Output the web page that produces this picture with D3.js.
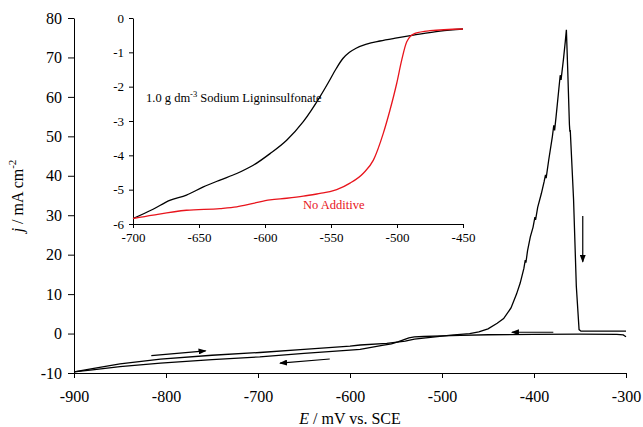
<!DOCTYPE html>
<html>
<head>
<meta charset="utf-8">
<script src="https://cdn.jsdelivr.net/npm/d3@7/dist/d3.min.js"></script>
<style>
body { margin:0; background:#fff; }
svg text { font-family: "Liberation Serif", "Times New Roman", Times, serif; fill:#000; }
</style>
</head>
<body>
<svg id="chart" width="643" height="427"></svg>
<script>
// main cyclic voltammogram, [E mV, j mA cm-2]
var forwardScan = [[-900,-9.7],[-880,-8.9],[-850,-7.7],[-806,-6.5],[-750,-5.5],[-698,-4.8],[-650,-4.0],[-600,-3.2],[-589,-2.9],
    [-560,-2.5],[-540,-1.9],[-530,-1.4],[-510,-0.9],[-490,-0.4],[-470,0.0],[-460,0.4],[-450,1.2],[-440,2.6],[-433,3.8],
    [-425,6.5],[-419,10],[-415,12.8],[-411,16.5],[-409.5,18.6],[-408.8,18.0],[-407,21],[-404,24.5],[-401,27],[-399,29.5],
    [-398.3,28.8],[-396,32],[-392,35.5],[-389,38.5],[-387.5,40.2],[-386.8,39.4],[-384,44],[-380,50],[-378.5,52.8],
    [-377.6,51.5],[-376,55],[-373,62],[-371.5,65.5],[-370.6,64.3],[-368,69.5],[-366,74],[-364.8,77],[-363.5,68],
    [-361.5,53],[-361,51.2],[-360.6,51.6],[-357,34],[-354,12],[-351,1],[-349,0.6],[-300,0.6]];
var reverseScan = [[-300,-0.8],[-303,-0.35],[-310,-0.2],[-350,-0.15],[-400,-0.2],[-450,-0.3],[-480,-0.45],[-500,-0.6],
    [-520,-0.75],[-530,-0.85],[-536,-1.1],[-542,-1.6],[-548,-2.1],[-555,-2.6],[-565,-3.0],[-589,-4.0],[-600,-4.2],
    [-650,-5.0],[-698,-5.9],[-750,-6.6],[-806,-7.5],[-850,-8.4],[-880,-9.2],[-900,-9.7]];
// scan direction arrows, [from, to] in data units
var scanArrows = [[[-816,-5.6],[-757,-4.4]],[[-622,-6.45],[-676,-7.5]],[[-379,0.33],[-424,0.33]],[[-347,29.8],[-347,18.2]]];
var mainXTicks = [-900,-800,-700,-600,-500,-400,-300];
var mainYTicks = [-10,0,10,20,30,40,50,60,70,80];

// inset: cathodic sweeps
var ligninCurve = [[-700,-5.84],[-684.8,-5.57],[-672.2,-5.31],[-659.5,-5.16],[-646.7,-4.92],[-634.1,-4.72],[-621.4,-4.53],
    [-608.9,-4.29],[-596.2,-3.95],[-583.6,-3.56],[-571,-3.02],[-558.3,-2.29],[-552,-1.88],[-546,-1.47],[-541,-1.18],
    [-536,-1.0],[-531,-0.88],[-523,-0.76],[-512.9,-0.67],[-500,-0.58],[-487.6,-0.5],[-467.4,-0.38],[-450,-0.32]];
var noAdditiveCurve = [[-700,-5.84],[-684.8,-5.74],[-659.5,-5.6],[-634.1,-5.55],[-621.4,-5.5],[-608.9,-5.4],[-596.2,-5.3],
    [-583.6,-5.25],[-571,-5.19],[-558.3,-5.11],[-550.8,-5.06],[-545.7,-5.0],[-535.6,-4.81],[-525.5,-4.52],[-517.9,-4.14],
    [-510.4,-3.36],[-505.3,-2.68],[-500.2,-1.9],[-496.4,-1.22],[-492.6,-0.69],[-486.4,-0.45],[-475,-0.37],[-450,-0.32]];
var insetXTicks = [-700,-650,-600,-550,-500,-450];
var insetYTicks = [-6,-5,-4,-3,-2,-1,0];

var serif = "'Liberation Serif', 'Times New Roman', Times, serif";
var svg = d3.select("#chart");

svg.append("defs").append("marker")
    .attr("id","head")
    .attr("markerUnits","userSpaceOnUse")
    .attr("markerWidth",8)
    .attr("markerHeight",6)
    .attr("refX",7)
    .attr("refY",3)
    .attr("orient","auto")
    .append("path")
    .attr("d","M0,0L8,3L0,6Z")
    .attr("fill","#000");

var x = d3.scaleLinear().domain([-900,-300]).range([74,626]);
var y = d3.scaleLinear().domain([-10,80]).range([373,18]);

var fmt = function (d) { return String(d); };

svg.append("g")
    .attr("transform","translate(0,373)")
    .call(d3.axisBottom(x).tickValues(mainXTicks).tickFormat(fmt).tickSize(5).tickSizeOuter(0).tickPadding(13))
    .attr("font-family",serif).attr("font-size",16);
svg.append("g")
    .attr("transform","translate(74,0)")
    .call(d3.axisLeft(y).tickValues(mainYTicks).tickFormat(fmt).tickSize(6).tickSizeOuter(0).tickPadding(6))
    .attr("font-family",serif).attr("font-size",16);

var line = d3.line()
    .x(function (d) { return x(d[0]); })
    .y(function (d) { return y(d[1]); });

svg.append("path").datum(forwardScan)
    .attr("d",line).attr("fill","none").attr("stroke","#000").attr("stroke-width",1.3);
svg.append("path").datum(reverseScan)
    .attr("d",line).attr("fill","none").attr("stroke","#000").attr("stroke-width",1.3);

scanArrows.forEach(function (a) {
    svg.append("line")
        .attr("x1",x(a[0][0])).attr("y1",y(a[0][1]))
        .attr("x2",x(a[1][0])).attr("y2",y(a[1][1]))
        .attr("stroke","#000").attr("stroke-width",1.2)
        .attr("marker-end","url(#head)");
});

var yLabel = svg.append("text")
    .attr("transform","translate(23,196) rotate(-90)")
    .attr("text-anchor","middle")
    .style("font-size","16px");
yLabel.append("tspan").style("font-style","italic").text("j");
yLabel.append("tspan").text(" / mA cm");
yLabel.append("tspan").attr("dy",-7).style("font-size","11px").text("-2");

var xLabel = svg.append("text")
    .attr("x",350).attr("y",424)
    .attr("text-anchor","middle")
    .style("font-size","16px");
xLabel.append("tspan").style("font-style","italic").text("E");
xLabel.append("tspan").text(" / mV vs. SCE");

// inset
var ix = d3.scaleLinear().domain([-700,-450]).range([133,463]);
var iy = d3.scaleLinear().domain([-6,0]).range([224,18]);

var inset = svg.append("g");
inset.append("g")
    .attr("transform","translate(0,224)")
    .call(d3.axisBottom(ix).tickValues(insetXTicks).tickFormat(fmt).tickSize(4).tickSizeOuter(0).tickPadding(5))
    .attr("font-family",serif).attr("font-size",13);
inset.append("g")
    .attr("transform","translate(133,0)")
    .call(d3.axisLeft(iy).tickValues(insetYTicks).tickFormat(fmt).tickSize(4).tickSizeOuter(0).tickPadding(5))
    .attr("font-family",serif).attr("font-size",13);

var iline = d3.line()
    .x(function (d) { return ix(d[0]); })
    .y(function (d) { return iy(d[1]); })
    .curve(d3.curveMonotoneX);

inset.append("path").datum(ligninCurve)
    .attr("d",iline).attr("fill","none").attr("stroke","#000").attr("stroke-width",1.3);
inset.append("path").datum(noAdditiveCurve)
    .attr("d",iline).attr("fill","none").attr("stroke","#e8141c").attr("stroke-width",1.3);

var lab = inset.append("text")
    .attr("x",146).attr("y",102)
    .style("font-size","12.5px");
lab.append("tspan").text("1.0 g dm");
lab.append("tspan").attr("dy",-5).style("font-size","8.5px").text("-3");
lab.append("tspan").attr("dy",5).text(" Sodium Ligninsulfonate");

inset.append("text")
    .attr("x",303).attr("y",209)
    .style("font-size","12.5px")
    .style("fill","#e8141c")
    .text("No Additive");
</script>
</body>
</html>
